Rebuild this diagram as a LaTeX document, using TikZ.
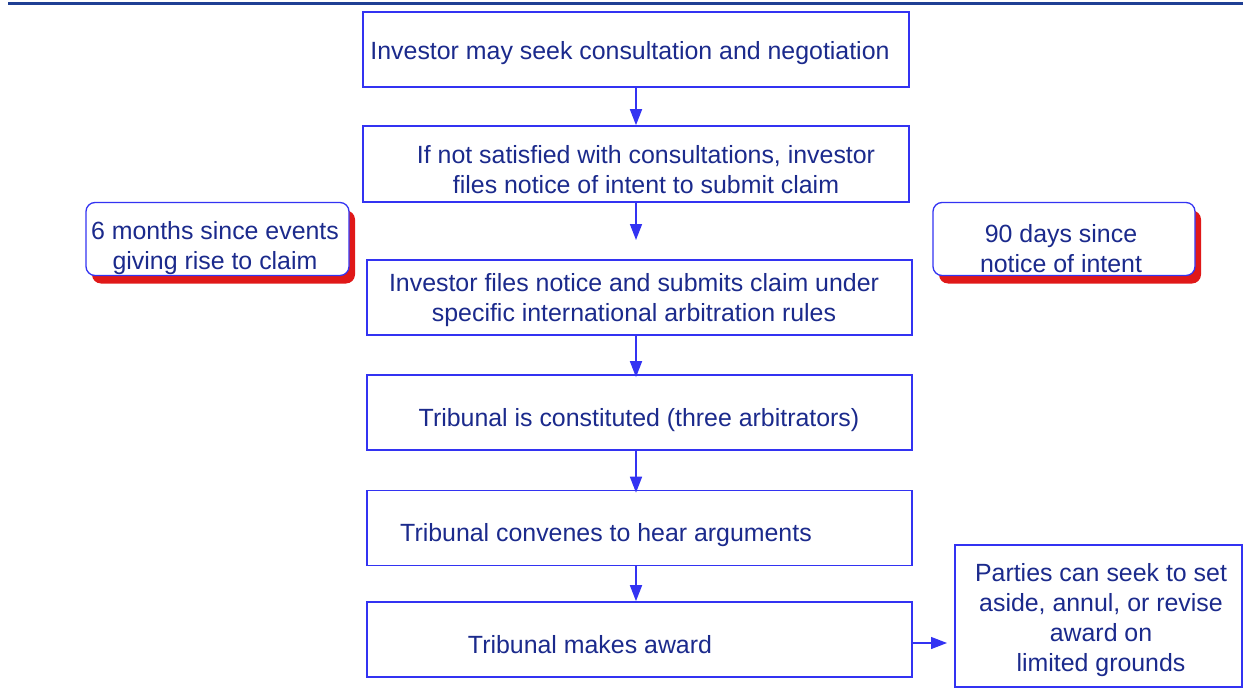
\documentclass[tikz,border=0pt]{standalone}
\usepackage{fontspec}
\setmainfont{Liberation Sans}
\usetikzlibrary{arrows.meta,shadows}
\definecolor{navy}{HTML}{1B2A8C}
\definecolor{bblue}{HTML}{3333F2}
\definecolor{topline}{HTML}{1F3F94}
\definecolor{shred}{HTML}{E01818}
\tikzset{
  box/.style={draw=bblue, line width=1.6pt, fill=white, inner sep=0pt},
  rbox/.style={draw=bblue, line width=1.3pt, fill=white, rounded corners=9pt, inner sep=0pt,
    drop shadow={shadow xshift=6pt, shadow yshift=-8pt, fill=shred, opacity=1}},
  txt/.style={text=navy, font=\fontsize{24.9}{30}\selectfont, align=center, inner sep=0pt},
  arr/.style={draw=bblue, line width=1.6pt, -{Triangle[length=16pt,width=12pt]}}
}
\begin{document}
\begin{tikzpicture}[x=1pt,y=-1pt]
\useasboundingbox (0,0) rectangle (1243,690);
\draw[topline, line width=2.6pt] (8,3.5) -- (1243,3.5);
% main boxes
\node[box, minimum width=546pt, minimum height=75pt] (b1) at (636,49.5) {};
\node[box, minimum width=546pt, minimum height=76pt] (b2) at (636,164) {};
\node[box, minimum width=545pt, minimum height=75pt] (b3) at (639.5,297.5) {};
\node[box, minimum width=545pt, minimum height=75pt] (b4) at (639.5,412.5) {};
\node[box, minimum width=545pt, minimum height=75pt] (b5) at (639.5,528) {};
\node[box, minimum width=545pt, minimum height=75pt] (b6) at (639.5,639.5) {};
\node[box, line width=1.3pt, minimum width=287pt, minimum height=142pt] (b7) at (1098.5,616) {};
% rounded boxes
\node[rbox, minimum width=263pt, minimum height=73pt] (r1) at (217.5,239) {};
\node[rbox, minimum width=262pt, minimum height=73pt] (r2) at (1064,239) {};
% texts
\node[txt] (t1) at (630,53) {Investor may seek consultation and negotiation};
\node[txt] (t2) at (646,170) {If not satisfied with consultations, investor\\files notice of intent to submit claim};
\node[txt] (t3) at (634,300) {Investor files notice and submits claim under\\specific international arbitration rules};
\node[txt] (t4) at (639,420) {Tribunal is constituted (three arbitrators)};
\node[txt] (t5) at (606,535) {Tribunal convenes to hear arguments};
\node[txt] (t6) at (590,645) {Tribunal makes award};
\node[txt] (t7) at (1101,620) {Parties can seek to set\\aside, annul, or revise\\award on\\limited grounds};
\node[txt] (tr1) at (215,248.5) {6 months since events\\giving rise to claim};
\node[txt] (tr2) at (1061,248.5) {90 days since\\notice of intent};
% arrows
\coordinate (e2) at (636,240);
\draw[arr] (b1.south -| 636,0) -- (b2.north -| 636,0);
\draw[arr] (b2.south -| 636,0) -- (e2);
\draw[arr] (b3.south -| 636,0) -- ([yshift=-3pt]b4.north -| 636,0);
\draw[arr] (b4.south -| 636,0) -- ([yshift=-3pt]b5.north -| 636,0);
\draw[arr] (b5.south -| 636,0) -- (b6.north -| 636,0);
\coordinate (e6) at (947,643);
\draw[arr, line width=1.3pt] (b6.east |- e6) -- (e6);
\end{tikzpicture}
\end{document}
